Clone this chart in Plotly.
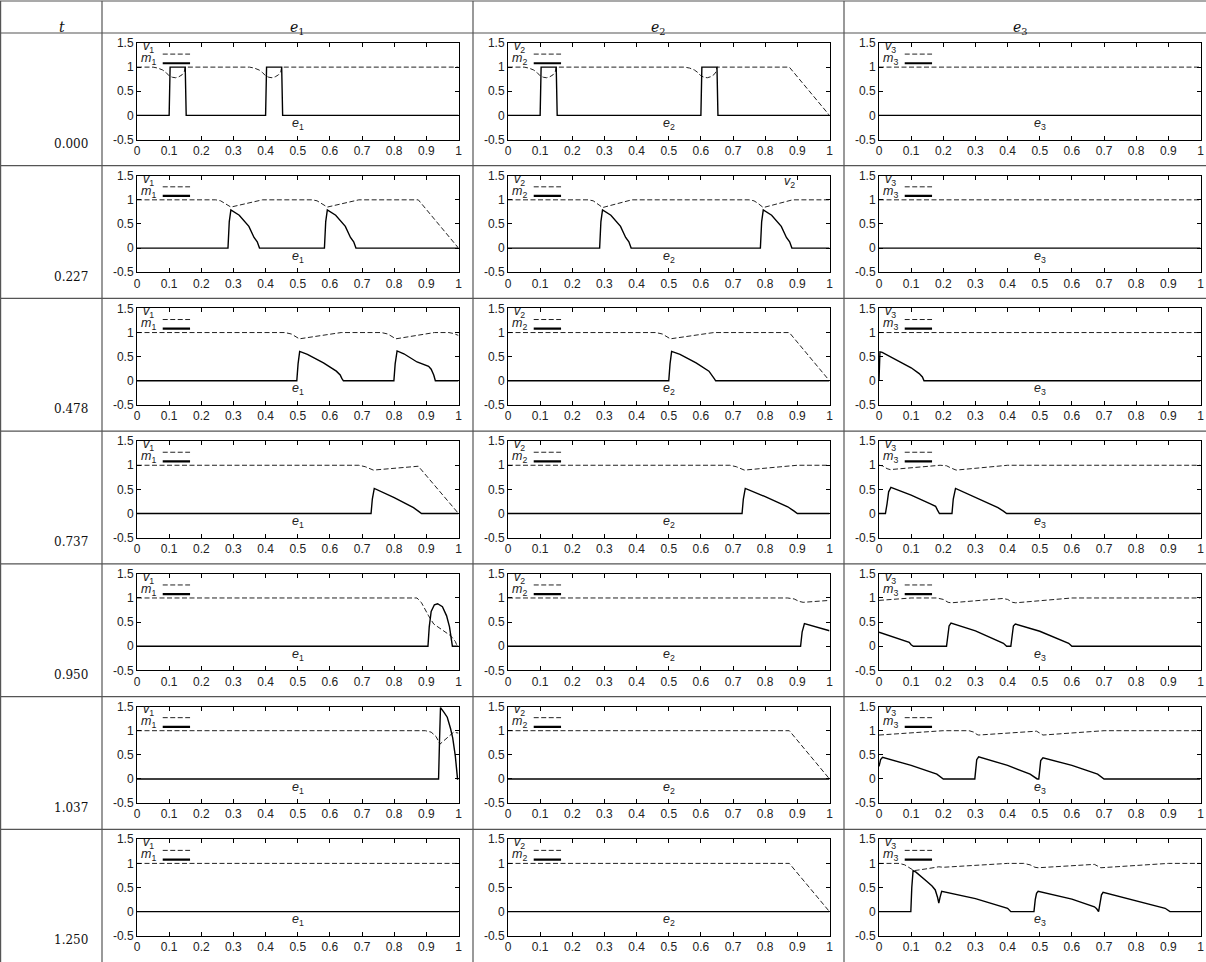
import plotly.graph_objects as go

W, H = 1206, 962

# ---------------- text / ticks ----------------
t_labels = ["0.000", "0.227", "0.478", "0.737", "0.950", "1.037", "1.250"]
col_names = ["1", "2", "3"]
x_tickvals = [0, 0.1, 0.2, 0.3, 0.4, 0.5, 0.6, 0.7, 0.8, 0.9, 1]
x_ticktext = ["0", "0.1", "0.2", "0.3", "0.4", "0.5", "0.6", "0.7", "0.8", "0.9", "1"]
y_tickvals = [-0.5, 0, 0.5, 1, 1.5]
y_ticktext = ["-0.5", "0", "0.5", "1", "1.5"]

# ---------------- data: row t=0.000 ----------------
r1c1_vx = [0, 0.05, 0.065, 0.08, 0.09, 0.1, 0.11, 0.12, 0.13, 0.14, 0.147, 0.15, 0.35, 0.365, 0.38, 0.39, 0.4, 0.41, 0.42, 0.43, 0.44, 0.447, 0.45, 1]
r1c1_vy = [1, 1, 0.98, 0.94, 0.89, 0.82, 0.79, 0.78, 0.8, 0.84, 0.9, 1, 1, 0.98, 0.94, 0.89, 0.82, 0.79, 0.78, 0.8, 0.84, 0.9, 1, 1]
r1c1_mx = [0, 0.1, 0.103, 0.15, 0.153, 0.4, 0.403, 0.45, 0.453, 1]
r1c1_my = [0, 0, 1, 1, 0, 0, 1, 1, 0, 0]

r1c2_vx = [0, 0.05, 0.065, 0.08, 0.09, 0.1, 0.11, 0.12, 0.13, 0.14, 0.147, 0.15, 0.55, 0.565, 0.58, 0.59, 0.6, 0.61, 0.62, 0.63, 0.64, 0.647, 0.65, 0.875, 1]
r1c2_vy = [1, 1, 0.98, 0.94, 0.89, 0.82, 0.79, 0.78, 0.8, 0.84, 0.9, 1, 1, 0.98, 0.94, 0.89, 0.82, 0.79, 0.78, 0.8, 0.84, 0.9, 1, 1, 0]
r1c2_mx = [0, 0.1, 0.103, 0.15, 0.153, 0.6, 0.603, 0.65, 0.653, 1]
r1c2_my = [0, 0, 1, 1, 0, 0, 1, 1, 0, 0]

r1c3_vx = [0, 1]
r1c3_vy = [1, 1]
r1c3_mx = [0, 1]
r1c3_my = [0, 0]

# ---------------- data: row t=0.227 ----------------
r2c1_vx = [0, 0.245, 0.26, 0.272, 0.283, 0.292, 0.39, 0.545, 0.56, 0.572, 0.583, 0.592, 0.69, 0.875, 1]
r2c1_vy = [1, 1, 0.98, 0.93, 0.88, 0.85, 1, 1, 0.98, 0.93, 0.88, 0.85, 1, 1, 0]
r2c1_mx = [0, 0.283, 0.287, 0.292, 0.318, 0.348, 0.364, 0.374, 0.381, 0.583, 0.587, 0.592, 0.618, 0.648, 0.664, 0.674, 0.681, 1]
r2c1_my = [0, 0, 0.55, 0.79, 0.68, 0.45, 0.22, 0.13, 0, 0, 0.55, 0.79, 0.68, 0.45, 0.22, 0.13, 0, 0]

r2c2_vx = [0, 0.25, 0.265, 0.277, 0.286, 0.294, 0.385, 0.75, 0.765, 0.777, 0.786, 0.794, 0.885, 1]
r2c2_vy = [1, 1, 0.98, 0.93, 0.88, 0.84, 1, 1, 0.98, 0.93, 0.88, 0.84, 1, 1]
r2c2_mx = [0, 0.285, 0.289, 0.294, 0.32, 0.35, 0.366, 0.376, 0.383, 0.785, 0.789, 0.794, 0.82, 0.85, 0.866, 0.876, 0.883, 1]
r2c2_my = [0, 0, 0.55, 0.79, 0.68, 0.45, 0.22, 0.13, 0, 0, 0.55, 0.79, 0.68, 0.45, 0.22, 0.13, 0, 0]

r2c3_vx = [0, 1]
r2c3_vy = [1, 1]
r2c3_mx = [0, 1]
r2c3_my = [0, 0]

# ---------------- data: row t=0.478 ----------------
r3c1_vx = [0, 0.46, 0.48, 0.495, 0.505, 0.635, 0.76, 0.78, 0.795, 0.805, 0.925, 0.97, 0.985, 1]
r3c1_vy = [1, 1, 0.97, 0.92, 0.87, 1, 1, 0.97, 0.92, 0.87, 1, 1, 0.98, 0.94]
r3c1_mx = [0, 0.497, 0.501, 0.506, 0.53, 0.58, 0.62, 0.632, 0.637, 0.642, 0.799, 0.803, 0.809, 0.83, 0.871, 0.89, 0.907, 0.915, 0.923, 0.928, 1]
r3c1_my = [0, 0, 0.35, 0.61, 0.55, 0.37, 0.2, 0.12, 0.05, 0, 0, 0.35, 0.62, 0.56, 0.39, 0.34, 0.3, 0.24, 0.12, 0, 0]

r3c2_vx = [0, 0.46, 0.48, 0.495, 0.505, 0.64, 0.875, 1]
r3c2_vy = [1, 1, 0.97, 0.92, 0.87, 1, 1, 0]
r3c2_mx = [0, 0.5, 0.504, 0.509, 0.535, 0.585, 0.625, 0.636, 0.641, 0.646, 1]
r3c2_my = [0, 0, 0.35, 0.61, 0.55, 0.37, 0.2, 0.11, 0.05, 0, 0]

r3c3_vx = [0, 1]
r3c3_vy = [1, 1]
r3c3_mx = [0, 0.003, 0.01, 0.06, 0.1, 0.125, 0.135, 0.14, 1]
r3c3_my = [0, 0.6, 0.59, 0.42, 0.27, 0.15, 0.08, 0, 0]

# ---------------- data: row t=0.737 ----------------
r4c1_vx = [0, 0.69, 0.71, 0.725, 0.735, 0.875, 1]
r4c1_vy = [1, 1, 0.97, 0.92, 0.9, 0.98, 0]
r4c1_mx = [0, 0.728, 0.732, 0.738, 0.8, 0.86, 0.875, 0.885, 1]
r4c1_my = [0, 0, 0.3, 0.52, 0.33, 0.12, 0.05, 0, 0]

r4c2_vx = [0, 0.69, 0.71, 0.725, 0.735, 0.9, 1]
r4c2_vy = [1, 1, 0.97, 0.92, 0.9, 1, 1]
r4c2_mx = [0, 0.728, 0.732, 0.738, 0.8, 0.87, 0.89, 0.9, 1]
r4c2_my = [0, 0, 0.3, 0.52, 0.35, 0.14, 0.05, 0, 0]

r4c3_vx = [0, 0.01, 0.025, 0.035, 0.19, 0.21, 0.225, 0.24, 0.4, 1]
r4c3_vy = [1, 0.99, 0.93, 0.91, 1, 0.99, 0.94, 0.9, 1, 1]
r4c3_mx = [0, 0.02, 0.025, 0.03, 0.037, 0.1, 0.16, 0.176, 0.182, 0.188, 0.227, 0.231, 0.238, 0.3, 0.37, 0.387, 0.397, 1]
r4c3_my = [0, 0, 0.2, 0.45, 0.54, 0.38, 0.2, 0.15, 0.07, 0, 0, 0.3, 0.52, 0.33, 0.12, 0.05, 0, 0]

# ---------------- data: row t=0.950 ----------------
r5c1_vx = [0, 0.871, 0.885, 0.897, 0.907, 0.923, 0.954, 0.975, 0.99, 0.996, 1]
r5c1_vy = [1, 1, 0.9, 0.75, 0.63, 0.46, 0.32, 0.22, 0.1, 0, 0]
r5c1_mx = [0, 0.905, 0.909, 0.915, 0.925, 0.935, 0.95, 0.963, 0.972, 0.978, 0.981, 1]
r5c1_my = [0, 0, 0.4, 0.72, 0.86, 0.88, 0.82, 0.63, 0.4, 0.15, 0, 0]

r5c2_vx = [0, 0.87, 0.89, 0.905, 0.918, 1]
r5c2_vy = [1, 1, 0.98, 0.93, 0.91, 0.95]
r5c2_mx = [0, 0.91, 0.915, 0.922, 1]
r5c2_my = [0, 0, 0.3, 0.47, 0.32]

r5c3_vx = [0, 0.1, 0.18, 0.2, 0.215, 0.225, 0.385, 0.4, 0.415, 0.425, 0.6, 1]
r5c3_vy = [0.95, 1, 1, 0.97, 0.91, 0.9, 0.99, 0.97, 0.91, 0.9, 1, 1]
r5c3_mx = [0, 0.094, 0.1, 0.107, 0.21, 0.214, 0.218, 0.224, 0.3, 0.387, 0.392, 0.397, 0.41, 0.414, 0.418, 0.424, 0.5, 0.59, 0.6, 1]
r5c3_my = [0.29, 0.08, 0.03, 0, 0, 0.25, 0.42, 0.48, 0.32, 0.06, 0.02, 0, 0, 0.25, 0.42, 0.46, 0.31, 0.06, 0, 0]

# ---------------- data: row t=1.037 ----------------
r6c1_vx = [0, 0.897, 0.915, 0.93, 0.938, 0.942, 0.985, 1]
r6c1_vy = [1, 1, 0.97, 0.88, 0.78, 0.72, 0.97, 0.95]
r6c1_mx = [0, 0.938, 0.941, 0.944, 0.955, 0.965, 0.975, 0.982, 0.99, 0.995, 0.997, 1]
r6c1_my = [0, 0, 0.8, 1.48, 1.38, 1.28, 1.05, 0.85, 0.48, 0.1, 0, 0]

r6c2_vx = [0, 0.875, 1]
r6c2_vy = [1, 1, 0]
r6c2_mx = [0, 1]
r6c2_my = [0, 0]

r6c3_vx = [0, 0.2, 0.28, 0.295, 0.305, 0.31, 0.49, 0.5, 0.51, 0.7, 1]
r6c3_vy = [0.91, 1, 1, 0.97, 0.92, 0.91, 0.99, 0.95, 0.91, 1, 1]
r6c3_mx = [0, 0.005, 0.011, 0.1, 0.18, 0.19, 0.2, 0.298, 0.301, 0.304, 0.31, 0.4, 0.47, 0.485, 0.492, 0.497, 0.5, 0.503, 0.51, 0.6, 0.68, 0.692, 0.7, 1]
r6c3_my = [0.26, 0.4, 0.45, 0.28, 0.1, 0.05, 0, 0, 0.25, 0.4, 0.46, 0.28, 0.1, 0.03, 0, 0, 0.25, 0.38, 0.44, 0.28, 0.1, 0.05, 0, 0]

# ---------------- data: row t=1.250 ----------------
r7c1_vx = [0, 1]
r7c1_vy = [1, 1]
r7c1_mx = [0, 1]
r7c1_my = [0, 0]

r7c2_vx = [0, 0.875, 1]
r7c2_vy = [1, 1, 0]
r7c2_mx = [0, 1]
r7c2_my = [0, 0]

r7c3_vx = [0, 0.063, 0.08, 0.095, 0.109, 0.15, 0.186, 0.2, 0.4, 0.45, 0.47, 0.485, 0.495, 0.67, 0.68, 0.69, 0.9, 1]
r7c3_vy = [1, 1, 0.97, 0.9, 0.85, 0.89, 0.93, 0.92, 1, 1, 0.97, 0.92, 0.91, 0.98, 0.95, 0.91, 1, 1]
r7c3_mx = [0, 0.099, 0.102, 0.106, 0.115, 0.13, 0.15, 0.165, 0.175, 0.182, 0.186, 0.19, 0.195, 0.3, 0.4, 0.41, 0.482, 0.486, 0.49, 0.495, 0.6, 0.67, 0.677, 0.683, 0.688, 0.692, 0.697, 0.8, 0.89, 0.905, 1]
r7c3_my = [0, 0, 0.5, 0.85, 0.82, 0.74, 0.62, 0.53, 0.45, 0.3, 0.18, 0.3, 0.42, 0.27, 0.07, 0, 0, 0.25, 0.38, 0.42, 0.26, 0.1, 0.06, 0, 0.2, 0.35, 0.4, 0.23, 0.07, 0, 0]

panels = [
    [(r1c1_vx, r1c1_vy, r1c1_mx, r1c1_my), (r1c2_vx, r1c2_vy, r1c2_mx, r1c2_my), (r1c3_vx, r1c3_vy, r1c3_mx, r1c3_my)],
    [(r2c1_vx, r2c1_vy, r2c1_mx, r2c1_my), (r2c2_vx, r2c2_vy, r2c2_mx, r2c2_my), (r2c3_vx, r2c3_vy, r2c3_mx, r2c3_my)],
    [(r3c1_vx, r3c1_vy, r3c1_mx, r3c1_my), (r3c2_vx, r3c2_vy, r3c2_mx, r3c2_my), (r3c3_vx, r3c3_vy, r3c3_mx, r3c3_my)],
    [(r4c1_vx, r4c1_vy, r4c1_mx, r4c1_my), (r4c2_vx, r4c2_vy, r4c2_mx, r4c2_my), (r4c3_vx, r4c3_vy, r4c3_mx, r4c3_my)],
    [(r5c1_vx, r5c1_vy, r5c1_mx, r5c1_my), (r5c2_vx, r5c2_vy, r5c2_mx, r5c2_my), (r5c3_vx, r5c3_vy, r5c3_mx, r5c3_my)],
    [(r6c1_vx, r6c1_vy, r6c1_mx, r6c1_my), (r6c2_vx, r6c2_vy, r6c2_mx, r6c2_my), (r6c3_vx, r6c3_vy, r6c3_mx, r6c3_my)],
    [(r7c1_vx, r7c1_vy, r7c1_mx, r7c1_my), (r7c2_vx, r7c2_vy, r7c2_mx, r7c2_my), (r7c3_vx, r7c3_vy, r7c3_mx, r7c3_my)],
]

# ---------------- layout geometry (pixels) ----------------
HEADER_TOP = 1
HEADER_BOT = 33
ROW_H = (H - HEADER_BOT) / 7
COL_DIV = [102, 473, 844]
COL_W = 371
PLOT_L, PLOT_R = 35, 356.5
PLOT_T, PLOT_B = 10, 106.5

TICK_FONT = dict(family="Liberation Sans, Arial, sans-serif", size=12, color="#222")
LBL_FONT = dict(family="Liberation Sans, Arial, sans-serif", size=12.5, color="#222")
SERIF = "DejaVu Serif, serif"
GRID_COLOR = "#555"


def px(x):
    return x / W


def py(y):
    return 1 - y / H


fig = go.Figure()
layout = {}
shapes = []
annotations = []

for r in range(7):
    row_top = HEADER_BOT + r * ROW_H
    for c in range(3):
        k = r * 3 + c + 1
        xs = "x" if k == 1 else f"x{k}"
        ys = "y" if k == 1 else f"y{k}"
        xkey = "xaxis" if k == 1 else f"xaxis{k}"
        ykey = "yaxis" if k == 1 else f"yaxis{k}"
        x0 = COL_DIV[c] + PLOT_L
        x1 = COL_DIV[c] + PLOT_R
        y0 = row_top + PLOT_T
        y1 = row_top + PLOT_B
        common = dict(ticks="inside", ticklen=4, tickwidth=1, tickcolor="black",
                      showline=True, linecolor="black", linewidth=1, mirror="ticks",
                      showgrid=False, zeroline=False, tickfont=TICK_FONT, fixedrange=True,
                      automargin=False)
        layout[xkey] = dict(domain=[px(x0), px(x1)], anchor=ys, range=[0, 1],
                            tickmode="array", tickvals=x_tickvals, ticktext=x_ticktext, **common)
        layout[ykey] = dict(domain=[py(y1), py(y0)], anchor=xs, range=[-0.5, 1.5],
                            tickmode="array", tickvals=y_tickvals, ticktext=y_ticktext, **common)

        vx, vy, mx, my = panels[r][c]
        fig.add_trace(go.Scatter(x=vx, y=vy, mode="lines", xaxis=xs, yaxis=ys,
                                 line=dict(color="#222", width=1, dash="5px,2.5px"),
                                 showlegend=False, hoverinfo="skip"))
        fig.add_trace(go.Scatter(x=mx, y=my, mode="lines", xaxis=xs, yaxis=ys,
                                 line=dict(color="black", width=1.4),
                                 showlegend=False, hoverinfo="skip"))

        n = col_names[c]
        # legend keys
        annotations.append(dict(x=0.035, y=1.42, xref=xs, yref=ys, showarrow=False,
                                text=f"<i>v</i><sub>{n}</sub>", font=LBL_FONT))
        annotations.append(dict(x=0.035, y=1.17, xref=xs, yref=ys, showarrow=False,
                                text=f"<i>m</i><sub>{n}</sub>", font=LBL_FONT))
        shapes.append(dict(type="line", xref=xs, yref=ys, x0=0.08, x1=0.165, y0=1.27, y1=1.27,
                           line=dict(color="#222", width=1, dash="5px,2.5px")))
        shapes.append(dict(type="line", xref=xs, yref=ys, x0=0.08, x1=0.165, y0=1.08, y1=1.08,
                           line=dict(color="black", width=2.2)))
        # axis name inside plot
        annotations.append(dict(x=0.5, y=-0.18, xref=xs, yref=ys, showarrow=False,
                                text=f"<i>e</i><sub>{n}</sub>", font=LBL_FONT))
        if r == 1 and c == 1:
            annotations.append(dict(x=0.875, y=1.37, xref=xs, yref=ys, showarrow=False,
                                    text=f"<i>v</i><sub>{n}</sub>", font=LBL_FONT))

    # t value
    annotations.append(dict(x=px(90), y=py(row_top + 111), xref="paper", yref="paper",
                            xanchor="right", yanchor="middle", showarrow=False,
                            text=t_labels[r], font=dict(family=SERIF, size=12, color="#111")))

# header
annotations.append(dict(x=px(57), y=py(17), xref="paper", yref="paper", showarrow=False,
                        text="<i>t</i>", font=dict(family=SERIF, size=14, color="#111")))
for c in range(3):
    cx = COL_DIV[c] + COL_W / 2
    annotations.append(dict(x=px(cx), y=py(17), xref="paper", yref="paper", showarrow=False,
                            text=f"<i>e</i><sub>{col_names[c]}</sub>",
                            font=dict(family=SERIF, size=14, color="#111")))

# table rules
hlines = [HEADER_TOP, HEADER_BOT] + [HEADER_BOT + k * ROW_H for k in range(1, 7)]
for yy in hlines:
    shapes.append(dict(type="line", xref="paper", yref="paper", x0=0, x1=1,
                       y0=py(yy), y1=py(yy), line=dict(color=GRID_COLOR, width=1.2)))
for xx in [0.6] + COL_DIV:
    shapes.append(dict(type="line", xref="paper", yref="paper", x0=px(xx), x1=px(xx),
                       y0=py(HEADER_TOP), y1=0, line=dict(color=GRID_COLOR, width=1.2)))

fig.update_layout(width=W, height=H, margin=dict(l=0, r=0, t=0, b=0, pad=0, autoexpand=False),
                  paper_bgcolor="white", plot_bgcolor="white", showlegend=False,
                  shapes=shapes, annotations=annotations, **layout)

# remove the browser's default 8px page margin so the figure sits at the window origin
fig.write_html("out.html", config={"displayModeBar": False, "staticPlot": True},
               post_script="document.body.style.margin='0';document.body.style.overflow='hidden';")
